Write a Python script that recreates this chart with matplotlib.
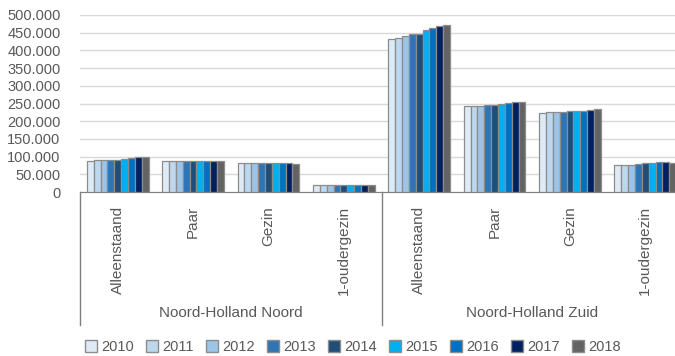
import numpy as np
import matplotlib.pyplot as plt
from matplotlib.ticker import FuncFormatter
from matplotlib.transforms import blended_transform_factory
from matplotlib.patches import Patch

plt.rcParams['font.family'] = ['Liberation Sans', 'DejaVu Sans']

# Huishoudtypen per regio
regio = ['Noord-Holland Noord', 'Noord-Holland Zuid']
typen = ['Alleenstaand', 'Paar', 'Gezin', '1-oudergezin']
jaren = ['2010', '2011', '2012', '2013', '2014', '2015', '2016', '2017', '2018']

# aantallen per jaar, volgorde: NHN (4 typen) dan NHZ (4 typen)
w2010 = [87000, 87000, 83000, 19000, 432000, 242500, 222000, 75500]
w2011 = [89000, 87000, 83000, 19000, 434000, 242500, 225000, 77000]
w2012 = [91000, 87000, 83000, 19000, 441000, 244000, 226000, 77000]
w2013 = [90000, 88000, 83000, 19000, 446000, 245000, 226000, 79000]
w2014 = [90000, 88000, 81000, 20000, 446000, 247000, 228000, 82000]
w2015 = [94000, 88000, 81000, 20000, 457000, 248000, 228000, 82000]
w2016 = [96000, 88000, 81000, 20000, 463000, 251000, 230000, 84000]
w2017 = [99000, 88000, 81000, 20000, 470000, 253000, 233000, 84000]
w2018 = [99000, 88000, 80000, 19000, 472000, 255000, 234000, 83000]
waarden = [w2010, w2011, w2012, w2013, w2014, w2015, w2016, w2017, w2018]

kleuren = ['#DEEBF7', '#BDD7EE', '#9DC3E6', '#2E75B6', '#1F4E79',
           '#00B0F0', '#0070C0', '#002060', '#636363']
tekst = '#595959'

fig = plt.figure(figsize=(6.75, 3.56), dpi=100)
# as loopt iets voorbij de rechterrand
ax = fig.add_axes([80 / 675, 164 / 356, 603 / 675, 177 / 356])

x = np.arange(len(regio) * len(typen))
bw = 0.82 / len(jaren)
for i, (jaar, vals) in enumerate(zip(jaren, waarden)):
    ax.bar(x - 0.41 + bw * (i + 0.5), vals, bw, color=kleuren[i],
           edgecolor='#8c8c8c', linewidth=0.9, label=jaar, zorder=3)

ax.set_xlim(-0.5, 7.5)
ax.set_ylim(0, 500000)
ax.set_yticks(np.arange(0, 500001, 50000))
ax.yaxis.set_major_formatter(FuncFormatter(lambda v, p: f'{int(v):,}'.replace(',', '.')))
ax.grid(axis='y', color='#d9d9d9', linewidth=1, zorder=0)
for s in ['left', 'right', 'top']:
    ax.spines[s].set_visible(False)
ax.spines['bottom'].set_color('#7f7f7f')
ax.tick_params(axis='y', length=0, labelsize=10.5, labelcolor=tekst, pad=14)

ax.set_xticks(x)
ax.set_xticklabels(typen * 2, rotation=90, va='top', ha='center')
ax.tick_params(axis='x', length=0, labelsize=11, labelcolor=tekst, pad=10)

trans = blended_transform_factory(ax.transData, fig.transFigure)
for xs in [-0.5, 3.5, 7.5]:
    ax.plot([xs, xs], [164 / 356, 31 / 356], color='#7f7f7f', lw=1,
            transform=trans, clip_on=False)
for j, naam in enumerate(regio):
    ax.text(1.5 + 4 * j, 43 / 356, naam, transform=trans, ha='center',
            va='center', fontsize=11, color=tekst)

handles = [Patch(facecolor=k, edgecolor='#8c8c8c', label=j) for k, j in zip(kleuren, jaren)]
fig.legend(handles=handles, loc='center', bbox_to_anchor=(353 / 675, 9 / 356),
           ncol=9, frameon=False, fontsize=10.5, labelcolor=tekst,
           handlelength=0.8, handleheight=0.8, handletextpad=0.3, columnspacing=0.85)

fig.savefig('out.png', dpi=100)
